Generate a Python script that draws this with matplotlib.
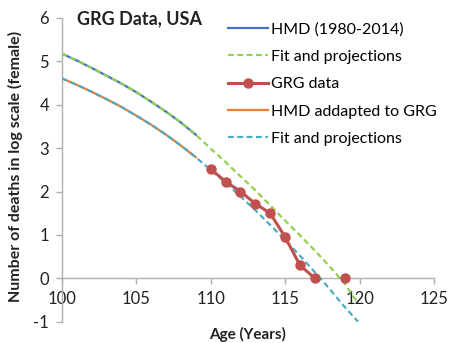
import matplotlib
matplotlib.use('Agg')
import matplotlib.pyplot as plt
import numpy as np

plt.rcParams['font.family'] = ['Lato', 'DejaVu Sans']
plt.rcParams['axes.unicode_minus'] = False

# HMD (1980-2014) observed, log scale
hmd_age = [100, 101, 102, 103, 104, 105, 106, 107, 108, 109]
hmd_val = [5.18, 5.02, 4.85, 4.67, 4.49, 4.29, 4.07, 3.84, 3.59, 3.31]
hmd_grg_val = [4.61, 4.46, 4.30, 4.13, 3.95, 3.75, 3.54, 3.31, 3.06, 2.79]

# fits and projections
fit_age = [100, 101, 102, 103, 104, 105, 106, 107, 108, 109, 110,
           111, 112, 113, 114, 115, 116, 117, 118, 119, 119.9]
fit1_val = [5.18, 5.02, 4.85, 4.67, 4.49, 4.29, 4.07, 3.84, 3.59, 3.31, 2.99,
            2.68, 2.35, 2.03, 1.68, 1.33, 0.99, 0.64, 0.27, -0.12, -0.58]
fit2_val = [4.61, 4.46, 4.30, 4.13, 3.95, 3.75, 3.54, 3.31, 3.06, 2.79, 2.50,
            2.20, 1.89, 1.57, 1.23, 0.88, 0.52, 0.14, -0.25, -0.66, -1.0]

# GRG data (no value at 118)
grg_age = [110, 111, 112, 113, 114, 115, 116, 117, 118, 119]
grg_val = [2.52, 2.23, 2.0, 1.72, 1.5, 0.95, 0.3, 0.0, np.nan, 0.0]

fig = plt.figure(figsize=(4.49, 3.43), dpi=100)
ax = fig.add_axes([0.1374, 0.0621, 0.8292, 0.8857])

ax.plot(hmd_age, hmd_val, color='#4472C4', lw=1.6, label='HMD (1980-2014)', zorder=2)
ax.plot(fit_age, fit1_val, color='#92D050', lw=1.6, dashes=(2.6, 1.6),
        label='Fit and projections', zorder=3)
ax.plot(grg_age, grg_val, color='#C0504D', lw=2.2, marker='o', ms=6.5,
        label='GRG data', zorder=4)
ax.plot(hmd_age, hmd_grg_val, color='#ED7D31', lw=1.6, label='HMD addapted to GRG', zorder=2)
ax.plot(fit_age, fit2_val, color='#4BACC6', lw=1.6, dashes=(2.6, 1.6),
        label='Fit and projections', zorder=3)

ax.set_xlim(100, 125)
ax.set_ylim(-1, 6)
ax.set_xticks([100, 105, 110, 115, 120, 125])
ax.set_yticks([-1, 0, 1, 2, 3, 4, 5, 6])

for s in ['top', 'right']:
    ax.spines[s].set_visible(False)
ax.spines['bottom'].set_position(('data', 0))
for s in ['left', 'bottom']:
    ax.spines[s].set_color('#B0B0B0')
    ax.spines[s].set_linewidth(1.0)
ax.tick_params(axis='both', colors='#B0B0B0', labelcolor='#222222',
               labelsize=12, length=4, width=1.0, pad=5)

ax.set_xlabel('Age (Years)', fontsize=11, fontweight='bold', color='#222222')
ax.xaxis.set_label_coords(0.5, -0.018)
ax.set_ylabel('Number of deaths in log scale (female)', fontsize=11.5,
              fontweight='bold', color='#222222')
ax.yaxis.set_label_coords(-0.104, 0.51)

fig.text(0.172, 0.944, 'GRG Data, USA', fontsize=13, fontweight='bold',
         color='#222222', va='center')

ax.legend(loc='upper left', bbox_to_anchor=(0.507, 0.936), bbox_transform=fig.transFigure,
          frameon=False, fontsize=11.5, handlelength=2.5, handletextpad=0.2,
          labelspacing=0.83, borderaxespad=0, borderpad=0)

fig.savefig('out.png', dpi=100)
